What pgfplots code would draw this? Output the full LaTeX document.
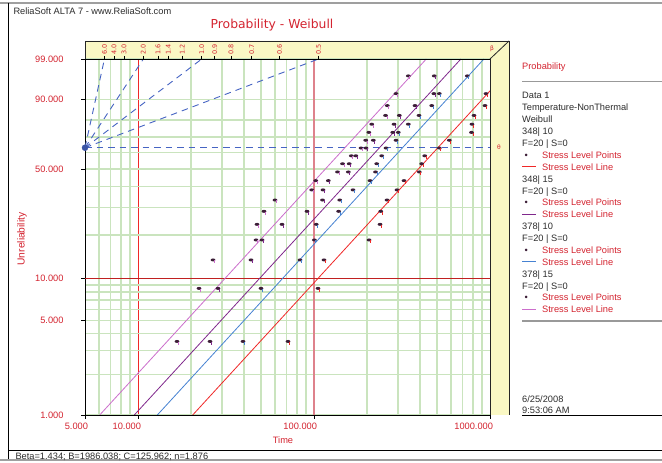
\documentclass[border=0pt]{standalone}
\usepackage{pgfplots}
\pgfplotsset{compat=1.18}
\usepackage{fontspec}
\setmainfont{Liberation Sans}
\newfontfamily\dejavu{DejaVu Sans}
\definecolor{txtred}{RGB}{212,36,48}
\definecolor{gridgreen}{RGB}{202,228,190}
\definecolor{rosy}{RGB}{222,130,140}
\definecolor{bandyellow}{RGB}{250,248,196}
\definecolor{lred}{RGB}{240,40,40}
\definecolor{lpurple}{RGB}{128,40,140}
\definecolor{lblue}{RGB}{70,130,210}
\definecolor{lpink}{RGB}{204,110,204}
\definecolor{markdark}{RGB}{60,30,55}
\definecolor{fanblue}{RGB}{70,100,195}
\definecolor{txtdark}{RGB}{45,45,45}
\newcommand{\ui}{\fontsize{9.3}{11}\selectfont}
\pgfdeclareplotmark{flag}{%
  \pgfpathellipse{\pgfpoint{0bp}{1.2bp}}{\pgfpoint{2.4bp}{0bp}}{\pgfpoint{0bp}{1.5bp}}%
  \pgfusepathqfill
  \pgfpathmoveto{\pgfpoint{1.5bp}{0.8bp}}%
  \pgfpathlineto{\pgfpoint{1.5bp}{-2.2bp}}%
  \pgfusepathqstroke
}
\pgfplotstableread{
t w
16.66 -3.3548
22.22 -2.4417
26.69 -1.9522
46.83 -1.6088
47.45 -1.3399
52.0 -1.1157
60.04 -0.9210
97.05 -0.7468
102.3 -0.5871
136.0 -0.4381
145.3 -0.2965
163.0 -0.1599
185.0 -0.0260
196.7 0.1075
204.9 0.2430
212.8 0.3839
254.9 0.5348
261.0 0.7042
292.4 0.9102
343.5 1.2155
}\pinkdata
\pgfplotstableread{
t w
25.66 -3.3548
28.49 -2.4417
43.87 -1.9522
50.67 -1.6088
65.81 -1.3399
91.26 -1.1157
111.8 -0.9210
112.5 -0.7468
120.6 -0.5871
156.7 -0.4381
158.5 -0.2965
172.8 -0.1599
197.5 -0.0260
217.3 0.1075
280.1 0.2430
284.9 0.3839
305.3 0.5348
375.0 0.7042
479.5 0.9102
482.0 1.2155
}\purpledata
\pgfplotstableread{
t w
39.51 -3.3548
50.0 -2.4417
83.27 -1.9522
100.5 -1.6088
103.0 -1.3399
138.0 -1.1157
140.0 -0.9210
166.6 -0.7468
208.1 -0.5871
223.6 -0.4381
227.2 -0.2965
242.5 -0.1599
256.6 -0.0260
292.4 0.1075
301.3 0.2430
343.5 0.3839
395.1 0.5348
466.6 0.7042
515.3 0.9102
743.2 1.2155
}\bluedata
\pgfplotstableread{
t w
71.19 -3.3548
105.4 -2.4417
114.0 -1.9522
205.4 -1.6088
237.2 -1.3399
239.4 -1.1157
260.0 -0.9210
296.2 -0.7468
324.7 -0.5871
396.6 -0.4381
409.3 -0.2965
425.7 -0.1599
515.3 -0.0260
587.3 0.1075
785.0 0.2430
790.0 0.3839
811.2 0.5348
936.6 0.7042
949.0 0.9102
}\reddata
\begin{document}
\begin{tikzpicture}[x=1bp,y=1bp]
\useasboundingbox (0,0) rectangle (662,463);
\fill[white] (0,0) rectangle (662,463);
% outer frame
\draw[gray!75, line width=2bp] (0,460) -- (662,460);
\draw[black, line width=0.8bp] (8,460) -- (8,3);
\draw[black, line width=0.8bp] (8,13) -- (662,13);
\draw[gray!75, line width=1.5bp] (0,3) -- (662,3);
% yellow band
\fill[bandyellow] (85,404) -- (85,422) -- (509,422) -- (509,48) -- (490,48) -- (490,404) -- cycle;

\begin{axis}[
  at={(85bp,48bp)}, anchor=south west, scale only axis,
  width=405bp, height=356bp,
  xmode=log, xmin=5, xmax=1000, ymin=-4.6001, ymax=1.5272,
  axis x line*=bottom, axis y line*=left,
  x axis line style={-}, y axis line style={-},
  axis line style={black, line width=0.8bp},
  xtick={5,10,1000}, xticklabels={5.000,10.000,1000.000},
  extra x ticks={100}, extra x tick labels={100.000},
  extra x tick style={major x grid style={rosy, line width=1.8bp}},
  minor xtick={6,7,8,9,20,30,40,50,60,70,80,90,200,300,400,500,600,700,800,900},
  ytick={-4.6001,-2.9702,-0.3665,0.8340,1.5272},
  yticklabels={1.000,5.000,50.000,90.000,99.000},
  extra y ticks={-2.2504}, extra y tick labels={10.000},
  extra y tick style={major y grid style={lred!80!black, line width=0.9bp}},
  minor ytick={-3.9019,-3.4913,-3.1985,-2.7827,-2.6232,-2.4843,-2.3612,-1.4999,-1.0309,-0.6717,-0.0874,0.1856,0.4759},
  xmajorgrids, xminorgrids, ymajorgrids, yminorgrids,
  minor x grid style={gridgreen, line width=1.3bp},
  minor y grid style={gridgreen, line width=1.3bp},
  major y grid style={gridgreen, line width=1.3bp},
  major x grid style={lred, line width=0.9bp},
  tick style={black, line width=0.6bp},
  major tick length=4bp, minor tick length=0bp, tick align=outside,
  ticklabel style={font=\ui, text=txtred},
  xticklabel style={anchor=north east, xshift=6.5bp, yshift=-1bp},
  yticklabel style={anchor=east, xshift=-14bp},
]
% fan lines
\addplot[fanblue, line width=0.9bp, dash pattern=on 6.5bp off 5bp] coordinates {(5,0) (6.449,1.5272)};
\addplot[fanblue, line width=0.9bp, dash pattern=on 6.5bp off 5bp] coordinates {(5,0) (10.73,1.5272)};
\addplot[fanblue, line width=0.9bp, dash pattern=on 6.5bp off 5bp] coordinates {(5,0) (23.03,1.5272)};
\addplot[fanblue, line width=0.9bp, dash pattern=on 6.5bp off 5bp] coordinates {(5,0) (106.05,1.5272)};
\addplot[fanblue, line width=0.9bp, dash pattern=on 6.5bp off 5bp] coordinates {(5,0) (1000,0)};
\addplot[only marks, mark=*, mark size=3bp, fanblue!85!black] coordinates {(5,0)};
% stress level lines
\addplot[lpink, line width=0.8bp] coordinates {(6.06,-4.6001) (434.5,1.5272)};
\addplot[lpurple, line width=0.8bp] coordinates {(9.53,-4.6001) (683.3,1.5272)};
\addplot[lblue, line width=0.8bp] coordinates {(12.88,-4.6001) (923.5,1.5272)};
\addplot[lred, line width=0.8bp] coordinates {(20.46,-4.6001) (1467,1.5272)};
% points
\addplot[only marks, mark=flag, mark options={fill=markdark, draw=lpink, line width=0.9bp}] table[x=t,y=w] {\pinkdata};
\addplot[only marks, mark=flag, mark options={fill=markdark, draw=lpurple, line width=0.9bp}] table[x=t,y=w] {\purpledata};
\addplot[only marks, mark=flag, mark options={fill=markdark, draw=lblue, line width=0.9bp}] table[x=t,y=w] {\bluedata};
\addplot[only marks, mark=flag, mark options={fill=markdark, draw=lred, line width=0.9bp}] table[x=t,y=w] {\reddata};
\end{axis}

% top beta scale
\begin{axis}[
  at={(85bp,48bp)}, anchor=south west, scale only axis,
  width=405bp, height=356bp,
  xmode=log, xmin=5, xmax=1000, ymin=0, ymax=1,
  hide y axis, axis x line*=top, x axis line style={-},
  axis line style={black, line width=0.8bp},
  xtick={6.449,7.32,8.32,10.73,12.99,14.88,17.85,23.03,27.29,33.73,44.31,63.74,106.05},
  xticklabels={6.0,4.0,3.0,2.0,1.6,1.4,1.2,1.0,0.9,0.8,0.7,0.6,0.5},
  minor tick length=0bp, major tick length=3bp, tick align=outside,
  tick style={black, line width=0.6bp},
  xticklabel style={rotate=90, anchor=west, font=\dejavu\fontsize{6.5}{7}\selectfont, text=txtred, inner sep=1bp},
  clip=false,
]
\addplot[draw=none] coordinates {(5,0) (1000,1)};
\end{axis}

% band borders
\draw[gray!30!black, line width=0.9bp] (85,404) -- (85,422) -- (509,422) -- (509,48);
\draw[gray!30!black, line width=0.8bp] (490,404) -- (509,422);
\draw[gray!30!black, line width=0.8bp] (490,404) -- (490,48);
\node[font=\dejavu\fontsize{6}{7}\selectfont, text=txtred] at (492,414) {β};
\node[font=\dejavu\fontsize{6}{7}\selectfont, text=txtred] at (499,316) {θ};

% texts
\node[anchor=base west, font=\ui, text=txtdark] at (10,448.4) {ReliaSoft ALTA 7 - www.ReliaSoft.com};
\node[anchor=base, font=\dejavu\fontsize{12.4}{14}\selectfont, text=txtred] at (272,434.5) {Probability - Weibull};
\node[anchor=base, font=\ui, text=txtred] at (283,19.5) {Time};
\node[rotate=90, font=\fontsize{10.3}{12}\selectfont, text=txtred] at (22,224) {Unreliability};
\node[anchor=base west, font=\ui, text=txtdark] at (12,3.9) {Beta=1.434; B=1986.038; C=125.962; n=1.876};

% legend
\node[anchor=base west, font=\ui, text=txtred, inner sep=0pt] at (522,393) {Probability};
\draw[gray!80, line width=1.4bp] (522,381.3) -- (662,381.3);
\draw[gray!80, line width=1.4bp] (522,142) -- (662,142);
\draw[black, line width=0.8bp] (522,48) -- (662,48);
\newcommand{\legtext}[2]{\node[anchor=base west, font=\ui, text=txtdark, inner sep=0pt] at (522,{364-11.88*#1}) {#2};}
\newcommand{\legpts}[1]{%
  \node[anchor=base west, font=\ui, text=markdark, inner sep=0pt] at (524.5,{364-11.88*#1}) {•};
  \node[anchor=base west, font=\ui, text=txtred, inner sep=0pt] at (542,{364-11.88*#1}) {Stress Level Points};}
\newcommand{\legline}[2]{%
  \node[anchor=base west, font=\ui, inner sep=0pt] at (522,{364-11.88*#1}) {\textcolor{#2}{\rule[2.9bp]{14bp}{1bp}}};
  \node[anchor=base west, font=\ui, text=txtred, inner sep=0pt] at (542,{364-11.88*#1}) {Stress Level Line};}
\legtext{0}{Data 1}
\legtext{1}{Temperature-NonThermal}
\legtext{2}{Weibull}
\legtext{3}{348| 10}
\legtext{4}{F=20 | S=0}
\legpts{5}
\legline{6}{lred}
\legtext{7}{348| 15}
\legtext{8}{F=20 | S=0}
\legpts{9}
\legline{10}{lpurple}
\legtext{11}{378| 10}
\legtext{12}{F=20 | S=0}
\legpts{13}
\legline{14}{lblue}
\legtext{15}{378| 15}
\legtext{16}{F=20 | S=0}
\legpts{17}
\legline{18}{lpink}
\node[anchor=base west, font=\ui, text=txtdark, inner sep=0pt] at (522,60.7) {6/25/2008};
\node[anchor=base west, font=\ui, text=txtdark, inner sep=0pt] at (522,49.7) {9:53:06 AM};
\end{tikzpicture}
\end{document}
